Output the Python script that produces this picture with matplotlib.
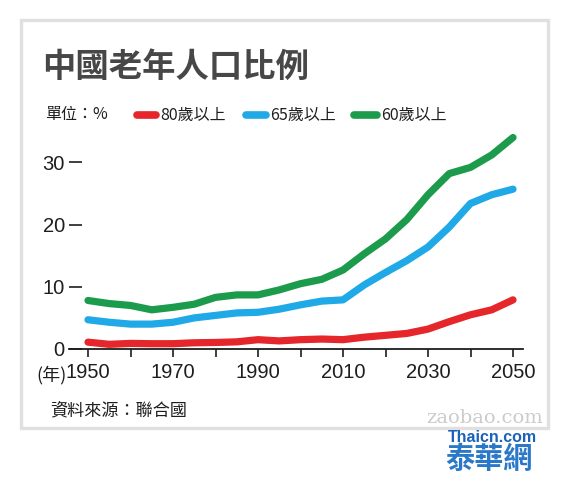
import matplotlib
matplotlib.use("Agg")
import matplotlib.pyplot as plt
from matplotlib.patches import Rectangle

years = [1950, 1955, 1960, 1965, 1970, 1975, 1980, 1985, 1990, 1995, 2000,
         2005, 2010, 2015, 2020, 2025, 2030, 2035, 2040, 2045, 2050]
age80 = [1.1, 0.75, 0.9, 0.85, 0.85, 1.0, 1.05, 1.15, 1.5, 1.3, 1.5,
         1.6, 1.5, 1.9, 2.2, 2.5, 3.2, 4.4, 5.5, 6.3, 7.9]
age65 = [4.7, 4.3, 4.0, 4.0, 4.3, 5.0, 5.4, 5.8, 5.9, 6.4, 7.1,
         7.7, 7.9, 10.3, 12.3, 14.2, 16.4, 19.6, 23.4, 24.8, 25.7]
age60 = [7.8, 7.3, 7.0, 6.3, 6.7, 7.2, 8.3, 8.7, 8.7, 9.5, 10.5,
         11.2, 12.7, 15.3, 17.7, 20.8, 24.8, 28.2, 29.2, 31.2, 34.0]
series_labels = ["80歲以上", "65歲以上", "60歲以上"]
series_colors = ["#e5262b", "#1fa9e6", "#1b9b4b"]
yticks = [0, 10, 20, 30]
xticks_major = [1950, 1970, 1990, 2010, 2030, 2050]
xticks_minor = [1960, 1980, 2000, 2020, 2040]

W, H = 569, 482
fig = plt.figure(figsize=(W / 100, H / 100), dpi=100)
fig.patch.set_facecolor("white")

NUM = ["Liberation Sans", "Noto Sans CJK TC", "DejaVu Sans"]
CJK = ["Noto Sans CJK TC", "DejaVu Sans"]
TXT = "#1e1e1e"

def fx(px):
    return px / W

def fy(py):
    return 1 - py / H

# frame
fig.patches.append(Rectangle((fx(21), fy(428)), fx(548) - fx(21), fy(20) - fy(428),
                             transform=fig.transFigure, fill=False,
                             edgecolor="#e0e0e0", linewidth=2.4))

# axes: x 1950 -> px 88, 2050 -> px 513; y 0 -> px 349, 6.22 px per unit
x0, x1 = 69, 523
ytop = 128
ax = fig.add_axes([fx(x0), fy(349), fx(x1) - fx(x0), fy(ytop) - fy(349)])
for vals, col in zip([age80, age65, age60], series_colors):
    ax.plot(years, vals, color=col, linewidth=5.2, solid_capstyle="round",
            solid_joinstyle="round")

ppy = 4.25
ax.set_xlim(1950 + (x0 - 88) / ppy, 1950 + (x1 - 88) / ppy)
ax.set_ylim(0, (349 - ytop) / 6.22)
for s in ["top", "right", "left"]:
    ax.spines[s].set_visible(False)
ax.spines["bottom"].set_color(TXT)
ax.spines["bottom"].set_linewidth(1.3)

ax.set_yticks(yticks)
ax.set_yticklabels([str(v) for v in yticks], family=NUM, fontsize=14.5, color=TXT)
ax.tick_params(axis="y", direction="in", length=9.5, width=1.2, pad=3, color=TXT)
ax.set_xticks(xticks_major)
ax.set_xticks(xticks_minor, minor=True)
ax.set_xticklabels([str(v) for v in xticks_major], family=NUM, fontsize=14.5, color=TXT)
ax.tick_params(axis="x", which="both", direction="out", length=6, width=1.2,
               pad=4, color=TXT)

# title and legend
fig.text(fx(42), fy(67), "中國老年人口比例", family=CJK, fontsize=24, fontweight="bold",
         color="#474747", va="center", ha="left")
ly = 115
fig.text(fx(45), fy(ly), "單位：%", family=CJK, fontsize=11.5, color=TXT,
         va="center", ha="left")
leg_pos = [(137, 156, 160), (246, 266, 270), (354, 377, 381)]
for (a, b, tx), lab, col in zip(leg_pos, series_labels, series_colors):
    fig.add_artist(plt.Line2D([fx(a), fx(b)], [fy(ly), fy(ly)], transform=fig.transFigure,
                              color=col, linewidth=5.5, solid_capstyle="round"))
    fig.text(fx(tx), fy(ly), lab, family=CJK, fontsize=11.5, color=TXT,
             va="center", ha="left")

fig.text(fx(67), fy(375), "(年)", family=CJK, fontsize=13, color=TXT,
         va="center", ha="right")
fig.text(fx(50), fy(410), "資料來源：聯合國", family=CJK, fontsize=12.3, color=TXT,
         va="center", ha="left")

# watermarks
fig.text(fx(543), fy(418), "zaobao.com", family=["DejaVu Serif"], fontsize=14,
         color="#cccccc", va="center", ha="right")
fig.text(fx(537), fy(437), "Thaicn.com", family=["Liberation Sans"], fontsize=11.5,
         fontweight="bold", color="#1b62b8", va="center", ha="right")
fig.text(fx(533), fy(459), "泰華網", family=CJK, fontsize=21, fontweight="bold",
         color="#2a78c8", va="center", ha="right")

fig.savefig("out.png", dpi=100, facecolor="white")
